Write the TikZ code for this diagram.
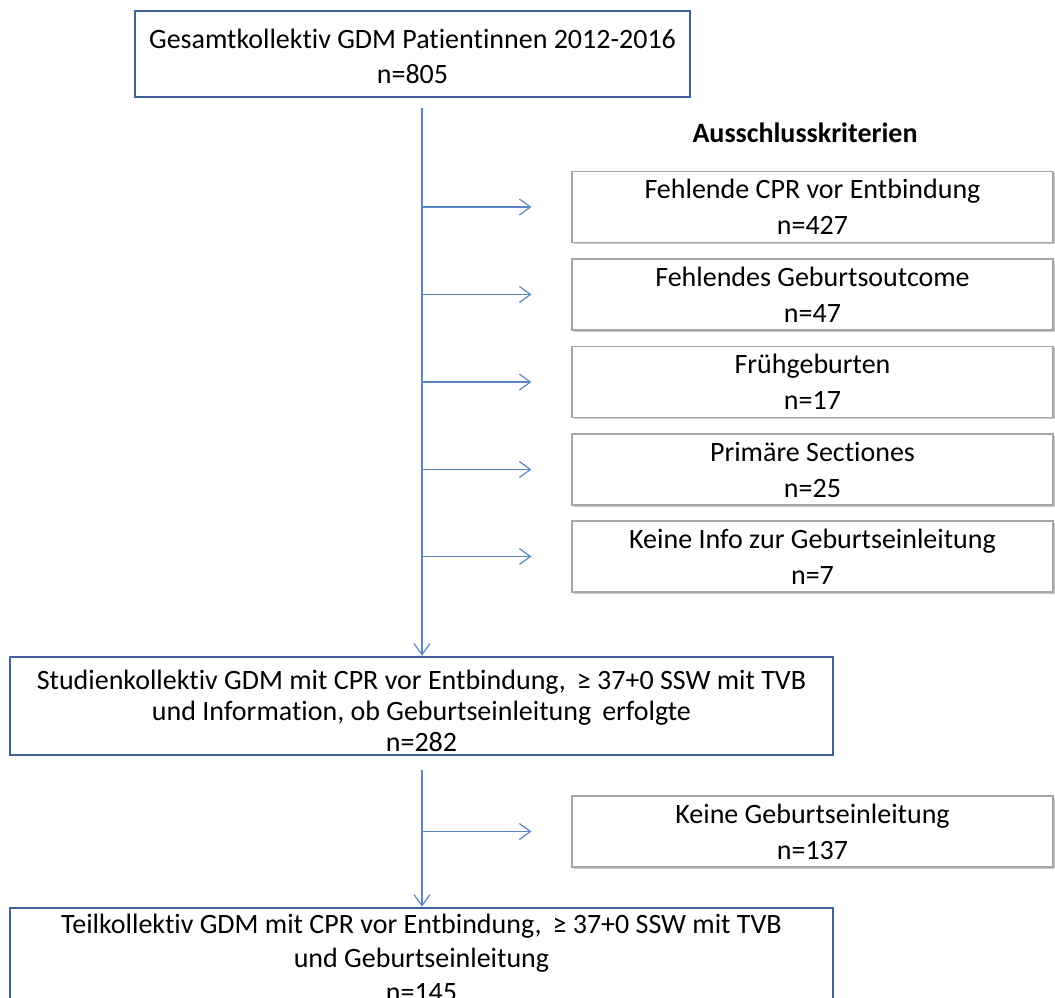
\documentclass[tikz,border=0pt]{standalone}
\usepackage{fontspec}
\setmainfont{Carlito}[Ligatures=NoCommon]
\usetikzlibrary{arrows.meta,shadows,calc}
\definecolor{boxblue}{HTML}{3F6399}
\definecolor{arrowblue}{HTML}{5B86C5}
\definecolor{boxgray}{HTML}{A6A6A6}
\tikzset{
  mainbox/.style={draw=boxblue, line width=2.8pt, fill=white, align=center, inner sep=0pt,
    font=\fontsize{28}{35}\selectfont},
  exbox/.style={draw=boxgray, line width=1.2pt, fill=white, align=center, inner sep=0pt,
    minimum width=481pt, minimum height=71pt, font=\fontsize{28}{36}\selectfont,
    drop shadow={shadow xshift=1.5pt, shadow yshift=-1.5pt, fill=black!35, opacity=0.6}},
  flow/.style={draw=arrowblue, line width=1.2pt},
  tipflow/.style={flow, -{Straight Barb[length=11pt,width=16pt,line width=1.2pt]}}
}
\begin{document}
\begin{tikzpicture}[x=1pt,y=-1pt]
\useasboundingbox (0,0) rectangle (1055,997);
\clip (0,0) rectangle (1055,997);
\fill[white] (0,0) rectangle (1055,997);

\node[mainbox, minimum width=555pt, minimum height=86pt] (top) at (412.5,54)
  {\rule{0pt}{24pt}Gesamtkollektiv GDM Patientinnen 2012-2016\\n=805};

\node[font=\bfseries\fontsize{28}{30}\selectfont] (head) at (805,133) {Ausschlusskriterien};

\node[exbox] (b1) at (812.5,207)   {Fehlende CPR vor Entbindung\\n=427};
\node[exbox] (b2) at (812.5,294.5) {Fehlendes Geburtsoutcome\\n=47};
\node[exbox] (b3) at (812.5,382)   {Frühgeburten\\n=17};
\node[exbox] (b4) at (812.5,469.5) {Primäre Sectiones\\n=25};
\node[exbox] (b5) at (812.5,556.5) {Keine Info zur Geburtseinleitung\\n=7};

\node[mainbox, minimum width=823pt, minimum height=98pt, font=\fontsize{28}{31}\selectfont] (mid) at (421.5,706)
  {\rule{0pt}{30pt}Studienkollektiv GDM mit CPR vor Entbindung, \,≥ 37+0 SSW mit TVB\\und Information, ob Geburtseinleitung \,erfolgte\\n=282};

\node[exbox] (b6) at (812.5,831.5) {Keine Geburtseinleitung\\n=137};

\node[mainbox, minimum width=823pt, minimum height=100pt, font=\fontsize{28}{34}\selectfont] (bot) at (421.5,958)
  {Teilkollektiv GDM mit CPR vor Entbindung, \,≥ 37+0 SSW mit TVB\\und Geburtseinleitung\\n=145};

\coordinate (t0) at (422,108);
\coordinate (t1) at (422,770);

\draw[tipflow] (t0) -- (t0 |- mid.north);
\foreach \b in {b1,b2,b3,b4,b5}
  \draw[tipflow] (t0 |- \b.west) -- ($(\b.west)+(-40,0)$);

\draw[tipflow] (t1) -- (t1 |- bot.north);
\draw[tipflow] (t1 |- b6.west) -- ($(b6.west)+(-40,0)$);
\end{tikzpicture}
\end{document}
